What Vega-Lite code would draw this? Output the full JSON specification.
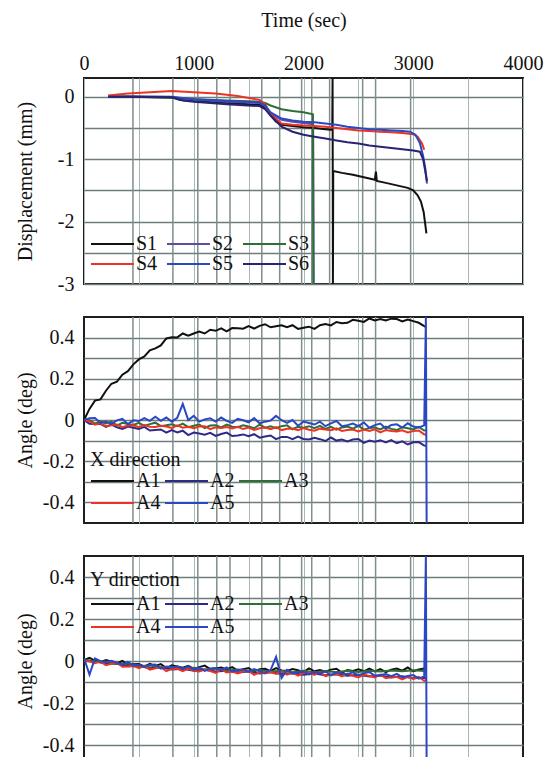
{
  "$schema": "https://vega.github.io/schema/vega-lite/v6.json",
  "padding": {"left": 13, "top": 9, "right": 0, "bottom": 0},
  "spacing": 20,
  "datasets": {
    "steps": [{"t":446},{"t":810},{"t":1037},{"t":1210},{"t":1330},{"t":1620},{"t":1783},{"t":1983},{"t":2075},{"t":2238},{"t":2539},{"t":2657},{"t":2976}],
    "disp": [
      {"t":220,"s":"S1","v":0},{"t":400,"s":"S1","v":0.005},{"t":600,"s":"S1","v":0},{"t":800,"s":"S1","v":-0.005},{"t":870,"s":"S1","v":-0.05},{"t":1000,"s":"S1","v":-0.07},{"t":1200,"s":"S1","v":-0.09},{"t":1400,"s":"S1","v":-0.11},{"t":1600,"s":"S1","v":-0.13},{"t":1650,"s":"S1","v":-0.18},{"t":1700,"s":"S1","v":-0.3},{"t":1750,"s":"S1","v":-0.4},{"t":1800,"s":"S1","v":-0.45},{"t":1900,"s":"S1","v":-0.47},{"t":2000,"s":"S1","v":-0.49},{"t":2100,"s":"S1","v":-0.5},{"t":2200,"s":"S1","v":-0.52},{"t":2262,"s":"S1","v":-0.53},{"t":2265,"s":"S1","v":0.3},{"t":2268,"s":"S1","v":-3.0},{"t":2271,"s":"S1","v":-1.19},{"t":2350,"s":"S1","v":-1.22},{"t":2450,"s":"S1","v":-1.25},{"t":2550,"s":"S1","v":-1.29},{"t":2650,"s":"S1","v":-1.33},{"t":2660,"s":"S1","v":-1.2},{"t":2668,"s":"S1","v":-1.35},{"t":2750,"s":"S1","v":-1.38},{"t":2850,"s":"S1","v":-1.42},{"t":2950,"s":"S1","v":-1.46},{"t":3000,"s":"S1","v":-1.5},{"t":3040,"s":"S1","v":-1.58},{"t":3070,"s":"S1","v":-1.68},{"t":3095,"s":"S1","v":-1.85},{"t":3120,"s":"S1","v":-2.19},
      {"t":220,"s":"S2","v":0},{"t":500,"s":"S2","v":-0.005},{"t":800,"s":"S2","v":-0.01},{"t":1000,"s":"S2","v":-0.05},{"t":1300,"s":"S2","v":-0.08},{"t":1600,"s":"S2","v":-0.1},{"t":1650,"s":"S2","v":-0.15},{"t":1700,"s":"S2","v":-0.27},{"t":1800,"s":"S2","v":-0.37},{"t":1900,"s":"S2","v":-0.4},{"t":2000,"s":"S2","v":-0.42},{"t":2088,"s":"S2","v":-0.44},{"t":2093,"s":"S2","v":-3.0},
      {"t":220,"s":"S3","v":0},{"t":500,"s":"S3","v":0},{"t":800,"s":"S3","v":-0.02},{"t":1000,"s":"S3","v":-0.04},{"t":1300,"s":"S3","v":-0.06},{"t":1600,"s":"S3","v":-0.08},{"t":1650,"s":"S3","v":-0.1},{"t":1700,"s":"S3","v":-0.14},{"t":1800,"s":"S3","v":-0.2},{"t":1900,"s":"S3","v":-0.23},{"t":2000,"s":"S3","v":-0.25},{"t":2086,"s":"S3","v":-0.28},{"t":2090,"s":"S3","v":-3.0},
      {"t":220,"s":"S4","v":0.02},{"t":400,"s":"S4","v":0.05},{"t":600,"s":"S4","v":0.07},{"t":800,"s":"S4","v":0.09},{"t":1000,"s":"S4","v":0.07},{"t":1200,"s":"S4","v":0.05},{"t":1400,"s":"S4","v":0.01},{"t":1600,"s":"S4","v":-0.05},{"t":1650,"s":"S4","v":-0.12},{"t":1700,"s":"S4","v":-0.28},{"t":1800,"s":"S4","v":-0.43},{"t":1900,"s":"S4","v":-0.45},{"t":2000,"s":"S4","v":-0.46},{"t":2100,"s":"S4","v":-0.47},{"t":2200,"s":"S4","v":-0.48},{"t":2300,"s":"S4","v":-0.5},{"t":2400,"s":"S4","v":-0.52},{"t":2500,"s":"S4","v":-0.54},{"t":2600,"s":"S4","v":-0.55},{"t":2700,"s":"S4","v":-0.56},{"t":2800,"s":"S4","v":-0.57},{"t":2900,"s":"S4","v":-0.58},{"t":3000,"s":"S4","v":-0.6},{"t":3040,"s":"S4","v":-0.64},{"t":3080,"s":"S4","v":-0.75},{"t":3100,"s":"S4","v":-0.85},
      {"t":220,"s":"S5","v":0},{"t":800,"s":"S5","v":0},{"t":1000,"s":"S5","v":-0.04},{"t":1300,"s":"S5","v":-0.07},{"t":1600,"s":"S5","v":-0.09},{"t":1650,"s":"S5","v":-0.14},{"t":1700,"s":"S5","v":-0.25},{"t":1800,"s":"S5","v":-0.35},{"t":1900,"s":"S5","v":-0.38},{"t":2000,"s":"S5","v":-0.4},{"t":2100,"s":"S5","v":-0.41},{"t":2200,"s":"S5","v":-0.43},{"t":2300,"s":"S5","v":-0.45},{"t":2400,"s":"S5","v":-0.48},{"t":2500,"s":"S5","v":-0.5},{"t":2600,"s":"S5","v":-0.52},{"t":2700,"s":"S5","v":-0.53},{"t":2800,"s":"S5","v":-0.54},{"t":2900,"s":"S5","v":-0.55},{"t":2970,"s":"S5","v":-0.56},{"t":3020,"s":"S5","v":-0.61},{"t":3060,"s":"S5","v":-0.74},{"t":3090,"s":"S5","v":-0.95},{"t":3110,"s":"S5","v":-1.15},{"t":3125,"s":"S5","v":-1.39},
      {"t":220,"s":"S6","v":0},{"t":800,"s":"S6","v":-0.01},{"t":900,"s":"S6","v":-0.06},{"t":1000,"s":"S6","v":-0.08},{"t":1300,"s":"S6","v":-0.12},{"t":1600,"s":"S6","v":-0.15},{"t":1650,"s":"S6","v":-0.2},{"t":1700,"s":"S6","v":-0.3},{"t":1800,"s":"S6","v":-0.48},{"t":1900,"s":"S6","v":-0.56},{"t":2000,"s":"S6","v":-0.61},{"t":2100,"s":"S6","v":-0.64},{"t":2200,"s":"S6","v":-0.67},{"t":2300,"s":"S6","v":-0.7},{"t":2400,"s":"S6","v":-0.73},{"t":2500,"s":"S6","v":-0.75},{"t":2600,"s":"S6","v":-0.78},{"t":2700,"s":"S6","v":-0.8},{"t":2800,"s":"S6","v":-0.82},{"t":2900,"s":"S6","v":-0.84},{"t":3000,"s":"S6","v":-0.86},{"t":3060,"s":"S6","v":-0.88},{"t":3090,"s":"S6","v":-1.0},{"t":3110,"s":"S6","v":-1.2},{"t":3125,"s":"S6","v":-1.35}
    ],
    "angx": [
      {"t":0,"A1":0,"A2":0,"A3":0,"A4":0,"A5":0},
      {"t":50,"A1":0.054,"A2":-0.018,"A3":-0.001,"A4":-0.007,"A5":0.008},
      {"t":100,"A1":0.094,"A2":-0.02,"A3":-0.018,"A4":-0.023,"A5":0.01},
      {"t":150,"A1":0.1,"A2":-0.019,"A3":-0.007,"A4":-0.016,"A5":-0.014},
      {"t":200,"A1":0.142,"A2":-0.033,"A3":-0.017,"A4":-0.03,"A5":-0.007},
      {"t":250,"A1":0.176,"A2":-0.022,"A3":-0.008,"A4":-0.025,"A5":-0.019},
      {"t":300,"A1":0.186,"A2":-0.035,"A3":-0.027,"A4":-0.022,"A5":-0.002},
      {"t":350,"A1":0.22,"A2":-0.043,"A3":-0.014,"A4":-0.035,"A5":0.006},
      {"t":400,"A1":0.237,"A2":-0.032,"A3":-0.019,"A4":-0.027,"A5":-0.02},
      {"t":450,"A1":0.27,"A2":-0.038,"A3":-0.024,"A4":-0.026,"A5":-0.001},
      {"t":500,"A1":0.294,"A2":-0.044,"A3":-0.014,"A4":-0.035,"A5":-0.005},
      {"t":550,"A1":0.309,"A2":-0.033,"A3":-0.029,"A4":-0.024,"A5":0.009},
      {"t":600,"A1":0.338,"A2":-0.051,"A3":-0.02,"A4":-0.033,"A5":-0.004},
      {"t":650,"A1":0.348,"A2":-0.048,"A3":-0.013,"A4":-0.034,"A5":0.016},
      {"t":700,"A1":0.362,"A2":-0.046,"A3":-0.03,"A4":-0.028,"A5":-0.004},
      {"t":750,"A1":0.396,"A2":-0.061,"A3":-0.026,"A4":-0.032,"A5":0.012},
      {"t":800,"A1":0.402,"A2":-0.049,"A3":-0.021,"A4":-0.039,"A5":-0.008},
      {"t":850,"A1":0.401,"A2":-0.06,"A3":-0.03,"A4":-0.026,"A5":0.011},
      {"t":900,"A1":0.42,"A2":-0.052,"A3":-0.018,"A4":-0.037,"A5":0.078},
      {"t":950,"A1":0.409,"A2":-0.073,"A3":-0.035,"A4":-0.033,"A5":0},
      {"t":1000,"A1":0.42,"A2":-0.061,"A3":-0.028,"A4":-0.04,"A5":0.02},
      {"t":1050,"A1":0.429,"A2":-0.066,"A3":-0.022,"A4":-0.032,"A5":-0.008},
      {"t":1100,"A1":0.42,"A2":-0.071,"A3":-0.039,"A4":-0.03,"A5":0.003},
      {"t":1150,"A1":0.438,"A2":-0.062,"A3":-0.027,"A4":-0.044,"A5":0.008},
      {"t":1200,"A1":0.433,"A2":-0.077,"A3":-0.026,"A4":-0.036,"A5":-0.008},
      {"t":1250,"A1":0.445,"A2":-0.068,"A3":-0.036,"A4":-0.039,"A5":0.012},
      {"t":1300,"A1":0.43,"A2":-0.061,"A3":-0.022,"A4":-0.034,"A5":-0.004},
      {"t":1350,"A1":0.446,"A2":-0.078,"A3":-0.033,"A4":-0.041,"A5":-0.014},
      {"t":1400,"A1":0.445,"A2":-0.075,"A3":-0.035,"A4":-0.033,"A5":0.006},
      {"t":1450,"A1":0.443,"A2":-0.07,"A3":-0.026,"A4":-0.044,"A5":-0.001},
      {"t":1500,"A1":0.456,"A2":-0.079,"A3":-0.032,"A4":-0.037,"A5":-0.011},
      {"t":1550,"A1":0.444,"A2":-0.069,"A3":-0.04,"A4":-0.048,"A5":0.009},
      {"t":1600,"A1":0.457,"A2":-0.086,"A3":-0.023,"A4":-0.04,"A5":-0.016},
      {"t":1650,"A1":0.465,"A2":-0.08,"A3":-0.037,"A4":-0.037,"A5":-0.008},
      {"t":1700,"A1":0.45,"A2":-0.075,"A3":-0.031,"A4":-0.045,"A5":-0.003},
      {"t":1750,"A1":0.455,"A2":-0.093,"A3":-0.04,"A4":-0.035,"A5":0.02},
      {"t":1800,"A1":0.46,"A2":-0.082,"A3":-0.03,"A4":-0.049,"A5":-0.001},
      {"t":1850,"A1":0.45,"A2":-0.082,"A3":-0.026,"A4":-0.043,"A5":-0.014},
      {"t":1900,"A1":0.46,"A2":-0.093,"A3":-0.045,"A4":-0.041,"A5":0},
      {"t":1950,"A1":0.442,"A2":-0.081,"A3":-0.033,"A4":-0.049,"A5":-0.028},
      {"t":2000,"A1":0.448,"A2":-0.092,"A3":-0.037,"A4":-0.039,"A5":-0.008},
      {"t":2050,"A1":0.453,"A2":-0.095,"A3":-0.03,"A4":-0.047,"A5":-0.015},
      {"t":2100,"A1":0.442,"A2":-0.086,"A3":-0.04,"A4":-0.052,"A5":-0.022},
      {"t":2150,"A1":0.46,"A2":-0.093,"A3":-0.028,"A4":-0.042,"A5":-0.008},
      {"t":2200,"A1":0.466,"A2":-0.102,"A3":-0.043,"A4":-0.046,"A5":-0.03},
      {"t":2250,"A1":0.459,"A2":-0.085,"A3":-0.033,"A4":-0.05,"A5":-0.016},
      {"t":2300,"A1":0.476,"A2":-0.1,"A3":-0.047,"A4":-0.041,"A5":-0.005},
      {"t":2350,"A1":0.47,"A2":-0.095,"A3":-0.036,"A4":-0.053,"A5":-0.03},
      {"t":2400,"A1":0.472,"A2":-0.104,"A3":-0.032,"A4":-0.049,"A5":-0.025},
      {"t":2450,"A1":0.486,"A2":-0.095,"A3":-0.042,"A4":-0.046,"A5":-0.017},
      {"t":2500,"A1":0.482,"A2":-0.092,"A3":-0.028,"A4":-0.056,"A5":-0.03},
      {"t":2550,"A1":0.476,"A2":-0.111,"A3":-0.047,"A4":-0.046,"A5":-0.012},
      {"t":2600,"A1":0.493,"A2":-0.1,"A3":-0.039,"A4":-0.053,"A5":-0.037},
      {"t":2650,"A1":0.483,"A2":-0.105,"A3":-0.036,"A4":-0.045,"A5":-0.025},
      {"t":2700,"A1":0.49,"A2":-0.098,"A3":-0.046,"A4":-0.06,"A5":-0.017},
      {"t":2750,"A1":0.483,"A2":-0.109,"A3":-0.032,"A4":-0.049,"A5":-0.041},
      {"t":2800,"A1":0.492,"A2":-0.098,"A3":-0.043,"A4":-0.053,"A5":-0.024},
      {"t":2850,"A1":0.49,"A2":-0.113,"A3":-0.049,"A4":-0.056,"A5":-0.021},
      {"t":2900,"A1":0.479,"A2":-0.104,"A3":-0.035,"A4":-0.05,"A5":-0.037},
      {"t":2950,"A1":0.488,"A2":-0.119,"A3":-0.04,"A4":-0.06,"A5":-0.016},
      {"t":3000,"A1":0.48,"A2":-0.108,"A3":-0.046,"A4":-0.054,"A5":-0.032},
      {"t":3050,"A1":0.472,"A2":-0.107,"A3":-0.033,"A4":-0.051,"A5":-0.036},
      {"t":3100,"A1":0.456,"A2":-0.124,"A3":-0.051,"A4":-0.07,"A5":-0.026},
      {"t":3115,"A5":0.5},
      {"t":3120,"A1":0.45,"A2":-0.125,"A3":-0.05,"A4":-0.07},
      {"t":3122,"A5":-0.5}
    ],
    "angy": [
      {"t":0,"A1":0.004,"A2":0.005,"A3":0.006,"A4":0.004,"A5":0.014},
      {"t":50,"A1":0.015,"A4":-0.003,"A5":-0.065},
      {"t":100,"A1":0.002,"A2":-0.002,"A3":-0.004,"A4":-0.01,"A5":0.012},
      {"t":150,"A1":-0.006,"A4":-0.003,"A5":-0.001},
      {"t":200,"A1":0.005,"A2":-0.012,"A3":-0.002,"A4":-0.02,"A5":-0.006},
      {"t":250,"A1":-0.002,"A4":-0.013,"A5":0.001},
      {"t":300,"A1":-0.011,"A2":-0.013,"A3":-0.014,"A4":-0.008,"A5":-0.008},
      {"t":350,"A1":0,"A4":-0.027,"A5":-0.019},
      {"t":400,"A1":-0.018,"A2":-0.025,"A3":-0.012,"A4":-0.026,"A5":-0.004},
      {"t":450,"A1":-0.015,"A4":-0.023,"A5":-0.021},
      {"t":500,"A1":-0.014,"A2":-0.024,"A3":-0.024,"A4":-0.034,"A5":-0.018},
      {"t":550,"A1":-0.027,"A4":-0.024,"A5":-0.028},
      {"t":600,"A1":-0.014,"A2":-0.035,"A3":-0.022,"A4":-0.041,"A5":-0.019},
      {"t":650,"A1":-0.024,"A4":-0.035,"A5":-0.017},
      {"t":700,"A1":-0.015,"A2":-0.03,"A3":-0.03,"A4":-0.03,"A5":-0.036},
      {"t":750,"A1":-0.034,"A4":-0.048,"A5":-0.026},
      {"t":800,"A1":-0.021,"A2":-0.04,"A3":-0.027,"A4":-0.037,"A5":-0.031},
      {"t":850,"A1":-0.026,"A4":-0.037,"A5":-0.025},
      {"t":900,"A1":-0.032,"A2":-0.037,"A3":-0.036,"A4":-0.048,"A5":-0.036},
      {"t":950,"A1":-0.023,"A4":-0.036,"A5":-0.026},
      {"t":1000,"A1":-0.038,"A2":-0.046,"A3":-0.032,"A4":-0.047,"A5":-0.041},
      {"t":1050,"A1":-0.029,"A4":-0.05,"A5":-0.032},
      {"t":1100,"A1":-0.022,"A2":-0.042,"A3":-0.04,"A4":-0.041,"A5":-0.047},
      {"t":1150,"A1":-0.039,"A4":-0.048,"A5":-0.036},
      {"t":1200,"A1":-0.036,"A2":-0.05,"A3":-0.036,"A4":-0.057,"A5":-0.033},
      {"t":1250,"A1":-0.031,"A4":-0.04,"A5":-0.044},
      {"t":1300,"A1":-0.04,"A2":-0.046,"A3":-0.045,"A4":-0.055,"A5":-0.031},
      {"t":1350,"A1":-0.029,"A4":-0.05,"A5":-0.05},
      {"t":1400,"A1":-0.046,"A2":-0.055,"A3":-0.04,"A4":-0.059,"A5":-0.043},
      {"t":1450,"A1":-0.039,"A4":-0.05,"A5":-0.04},
      {"t":1500,"A1":-0.034,"A2":-0.05,"A3":-0.048,"A4":-0.047,"A5":-0.051},
      {"t":1550,"A1":-0.05,"A4":-0.066,"A5":-0.038},
      {"t":1600,"A1":-0.039,"A2":-0.06,"A3":-0.043,"A4":-0.054,"A5":-0.049},
      {"t":1650,"A1":-0.037,"A4":-0.059,"A5":-0.056},
      {"t":1700,"A1":-0.048,"A2":-0.054,"A3":-0.05,"A4":-0.051,"A5":-0.043},
      {"t":1750,"A1":-0.034,"A4":-0.062,"A5":0.02},
      {"t":1800,"A1":-0.045,"A2":-0.062,"A3":-0.046,"A4":-0.05,"A5":-0.08},
      {"t":1850,"A1":-0.047,"A4":-0.065,"A5":-0.042},
      {"t":1900,"A1":-0.038,"A2":-0.058,"A3":-0.053,"A4":-0.055,"A5":-0.059},
      {"t":1950,"A1":-0.044,"A4":-0.07,"A5":-0.054},
      {"t":2000,"A1":-0.053,"A2":-0.066,"A3":-0.047,"A4":-0.058,"A5":-0.051},
      {"t":2050,"A1":-0.035,"A4":-0.055,"A5":-0.064},
      {"t":2100,"A1":-0.049,"A2":-0.06,"A3":-0.054,"A4":-0.066,"A5":-0.05},
      {"t":2150,"A1":-0.043,"A4":-0.053,"A5":-0.059},
      {"t":2200,"A1":-0.051,"A2":-0.068,"A3":-0.048,"A4":-0.072,"A5":-0.049},
      {"t":2250,"A1":-0.041,"A4":-0.065,"A5":-0.068},
      {"t":2300,"A1":-0.037,"A2":-0.063,"A3":-0.053,"A4":-0.062,"A5":-0.054},
      {"t":2350,"A1":-0.055,"A4":-0.073,"A5":-0.059},
      {"t":2400,"A1":-0.043,"A2":-0.07,"A3":-0.047,"A4":-0.06,"A5":-0.063},
      {"t":2450,"A1":-0.047,"A4":-0.071,"A5":-0.054},
      {"t":2500,"A1":-0.039,"A2":-0.066,"A3":-0.052,"A4":-0.078,"A5":-0.068},
      {"t":2550,"A1":-0.049,"A4":-0.065,"A5":-0.059},
      {"t":2600,"A1":-0.036,"A2":-0.074,"A3":-0.046,"A4":-0.071,"A5":-0.053},
      {"t":2650,"A1":-0.05,"A4":-0.078,"A5":-0.07},
      {"t":2700,"A1":-0.039,"A2":-0.069,"A3":-0.05,"A4":-0.065,"A5":-0.067},
      {"t":2750,"A1":-0.053,"A4":-0.082,"A5":-0.062},
      {"t":2800,"A1":-0.041,"A2":-0.078,"A3":-0.045,"A4":-0.078,"A5":-0.072},
      {"t":2850,"A1":-0.036,"A4":-0.075,"A5":-0.061},
      {"t":2900,"A1":-0.046,"A2":-0.073,"A3":-0.049,"A4":-0.088,"A5":-0.078},
      {"t":2950,"A1":-0.031,"A4":-0.075,"A5":-0.071},
      {"t":3000,"A1":-0.049,"A2":-0.082,"A3":-0.044,"A4":-0.085,"A5":-0.067},
      {"t":3050,"A1":-0.04,"A4":-0.076,"A5":-0.084},
      {"t":3100,"A1":-0.036,"A2":-0.08,"A3":-0.047,"A4":-0.095,"A5":-0.073},
      {"t":3115,"A5":0.5},
      {"t":3120,"A1":-0.03,"A2":-0.085,"A3":-0.045,"A4":-0.09},
      {"t":3122,"A5":-0.5}
    ]
  },
  "vconcat": [
    {
      "width": 439,
      "height": 206,
      "encoding": {
        "x": {"field": "t", "type": "quantitative", "scale": {"domain": [0, 4000], "nice": false},
          "axis": {"orient": "top", "values": [0,500,1000,1500,2000,2500,3000,3500,4000], "labelExpr": "datum.value % 1000 == 0 ? '' + datum.value : ''", "title": "Time (sec)", "titlePadding": 23, "labelPadding": 5, "grid": true}}
      },
      "layer": [
        {"data": {"name": "steps"}, "mark": {"type": "rule", "color": "#7f8d8d", "strokeWidth": 1.5}},
        {"data": {"name": "disp"}, "mark": {"type": "line", "strokeWidth": 2, "clip": true},
          "encoding": {
            "y": {"field": "v", "type": "quantitative", "scale": {"domain": [-3, 0.3], "nice": false, "zero": false},
              "axis": {"values": [-3,-2.5,-2,-1.5,-1,-0.5,0], "labelExpr": "datum.value % 1 == 0 ? (datum.value < 0 ? '-' + abs(datum.value) : '' + datum.value) : ''", "title": "Displacement (mm)", "titleX": -49, "labelPadding": 10, "grid": true}},
            "color": {"field": "s", "type": "nominal", "scale": {"domain": ["S1","S2","S3","S4","S5","S6"], "range": ["#111111","#5a4ea6","#2f6e35","#ee3322","#2b48c4","#2a2272"]},
              "legend": {"title": null, "columns": 3, "direction": "horizontal", "orient": "none", "legendX": 6, "legendY": 156, "columnPadding": 8, "rowPadding": 0}}
          }}
      ]
    },
    {
      "spacing": 29,
      "resolve": {"scale": {"color": "independent"}, "legend": {"color": "independent"}},
      "vconcat": [
        {
          "width": 439,
          "height": 206,
          "encoding": {
            "x": {"field": "t", "type": "quantitative", "scale": {"domain": [0, 4000], "nice": false},
              "axis": {"orient": "top", "values": [500,1000,1500,2000,2500,3000,3500], "labels": false, "title": null, "grid": true}}
          },
          "layer": [
            {"data": {"name": "steps"}, "mark": {"type": "rule", "color": "#7f8d8d", "strokeWidth": 1.5}},
            {"data": {"name": "angx"},
              "transform": [{"fold": ["A1","A2","A3","A4","A5"], "as": ["s","v"]}, {"filter": "isValid(datum.v)"}],
              "mark": {"type": "line", "strokeWidth": 2, "clip": true},
              "encoding": {
                "y": {"field": "v", "type": "quantitative", "scale": {"domain": [-0.5, 0.5], "nice": false, "zero": false},
                  "axis": {"values": [-0.4,-0.3,-0.2,-0.1,0,0.1,0.2,0.3,0.4], "labelExpr": "abs(round(datum.value*10)) % 2 == 0 ? (datum.value == 0 ? '0' : (datum.value < 0 ? '-' + format(abs(datum.value), '.1f') : format(datum.value, '.1f'))) : ''", "title": "Angle (deg)", "titleX": -49, "labelPadding": 10, "grid": true}},
                "color": {"field": "s", "type": "nominal", "scale": {"domain": ["A1","A2","A3","A4","A5"], "range": ["#111111","#2f2a86","#2f6e35","#ee3322","#2b48c4"]},
                  "legend": {"title": "X direction", "columns": 3, "direction": "horizontal", "orient": "none", "legendX": 6, "legendY": 133, "columnPadding": 3, "rowPadding": 2}}
              }}
          ]
        },
        {
          "width": 439,
          "height": 210,
          "encoding": {
            "x": {"field": "t", "type": "quantitative", "scale": {"domain": [0, 4000], "nice": false},
              "axis": {"orient": "top", "values": [500,1000,1500,2000,2500,3000,3500], "labels": false, "title": null, "grid": true}}
          },
          "layer": [
            {"data": {"name": "steps"}, "mark": {"type": "rule", "color": "#7f8d8d", "strokeWidth": 1.5}},
            {"data": {"name": "angy"},
              "transform": [{"fold": ["A1","A2","A3","A4","A5"], "as": ["s","v"]}, {"filter": "isValid(datum.v)"}],
              "mark": {"type": "line", "strokeWidth": 2, "clip": true},
              "encoding": {
                "y": {"field": "v", "type": "quantitative", "scale": {"domain": [-0.5, 0.5], "nice": false, "zero": false},
                  "axis": {"values": [-0.4,-0.3,-0.2,-0.1,0,0.1,0.2,0.3,0.4], "labelExpr": "abs(round(datum.value*10)) % 2 == 0 ? (datum.value == 0 ? '0' : (datum.value < 0 ? '-' + format(abs(datum.value), '.1f') : format(datum.value, '.1f'))) : ''", "title": "Angle (deg)", "titleX": -49, "labelPadding": 10, "grid": true}},
                "color": {"field": "s", "type": "nominal", "scale": {"domain": ["A1","A2","A3","A4","A5"], "range": ["#111111","#2f2a86","#2f6e35","#ee3322","#2b48c4"]},
                  "legend": {"title": "Y direction", "columns": 3, "direction": "horizontal", "orient": "none", "legendX": 6, "legendY": 14, "titlePadding": 4, "columnPadding": 3, "rowPadding": 3}}
              }}
          ]
        }
      ]
    }
  ],
  "resolve": {"scale": {"color": "independent"}, "legend": {"color": "independent"}},
  "config": {
    "font": "'Liberation Serif', 'DejaVu Serif', serif",
    "background": "white",
    "view": {"stroke": "#1e1e1e", "strokeWidth": 2},
    "axis": {
      "labelFont": "'Liberation Serif', 'DejaVu Serif', serif", "labelFontSize": 20, "labelColor": "#111111",
      "titleFont": "'Liberation Serif', 'DejaVu Serif', serif", "titleFontSize": 20, "titleFontWeight": "normal", "titleColor": "#111111",
      "ticks": false, "domain": false, "labelFlush": false, "labelOverlap": false,
      "gridColor": "#6f7c7c", "gridWidth": 1.5, "gridOpacity": 1
    },
    "axisX": {"gridColor": "#a9b6b6", "gridWidth": 1},
    "legend": {
      "symbolType": "stroke", "symbolSize": 1849, "symbolStrokeWidth": 2, "clipHeight": 20,
      "labelFont": "'Liberation Serif', 'DejaVu Serif', serif", "labelFontSize": 20, "labelColor": "#111111", "labelOffset": 1,
      "titleFont": "'Liberation Serif', 'DejaVu Serif', serif", "titleFontSize": 20, "titleFontWeight": "normal", "titleColor": "#111111",
      "titlePadding": 1, "padding": 0
    }
  }
}
